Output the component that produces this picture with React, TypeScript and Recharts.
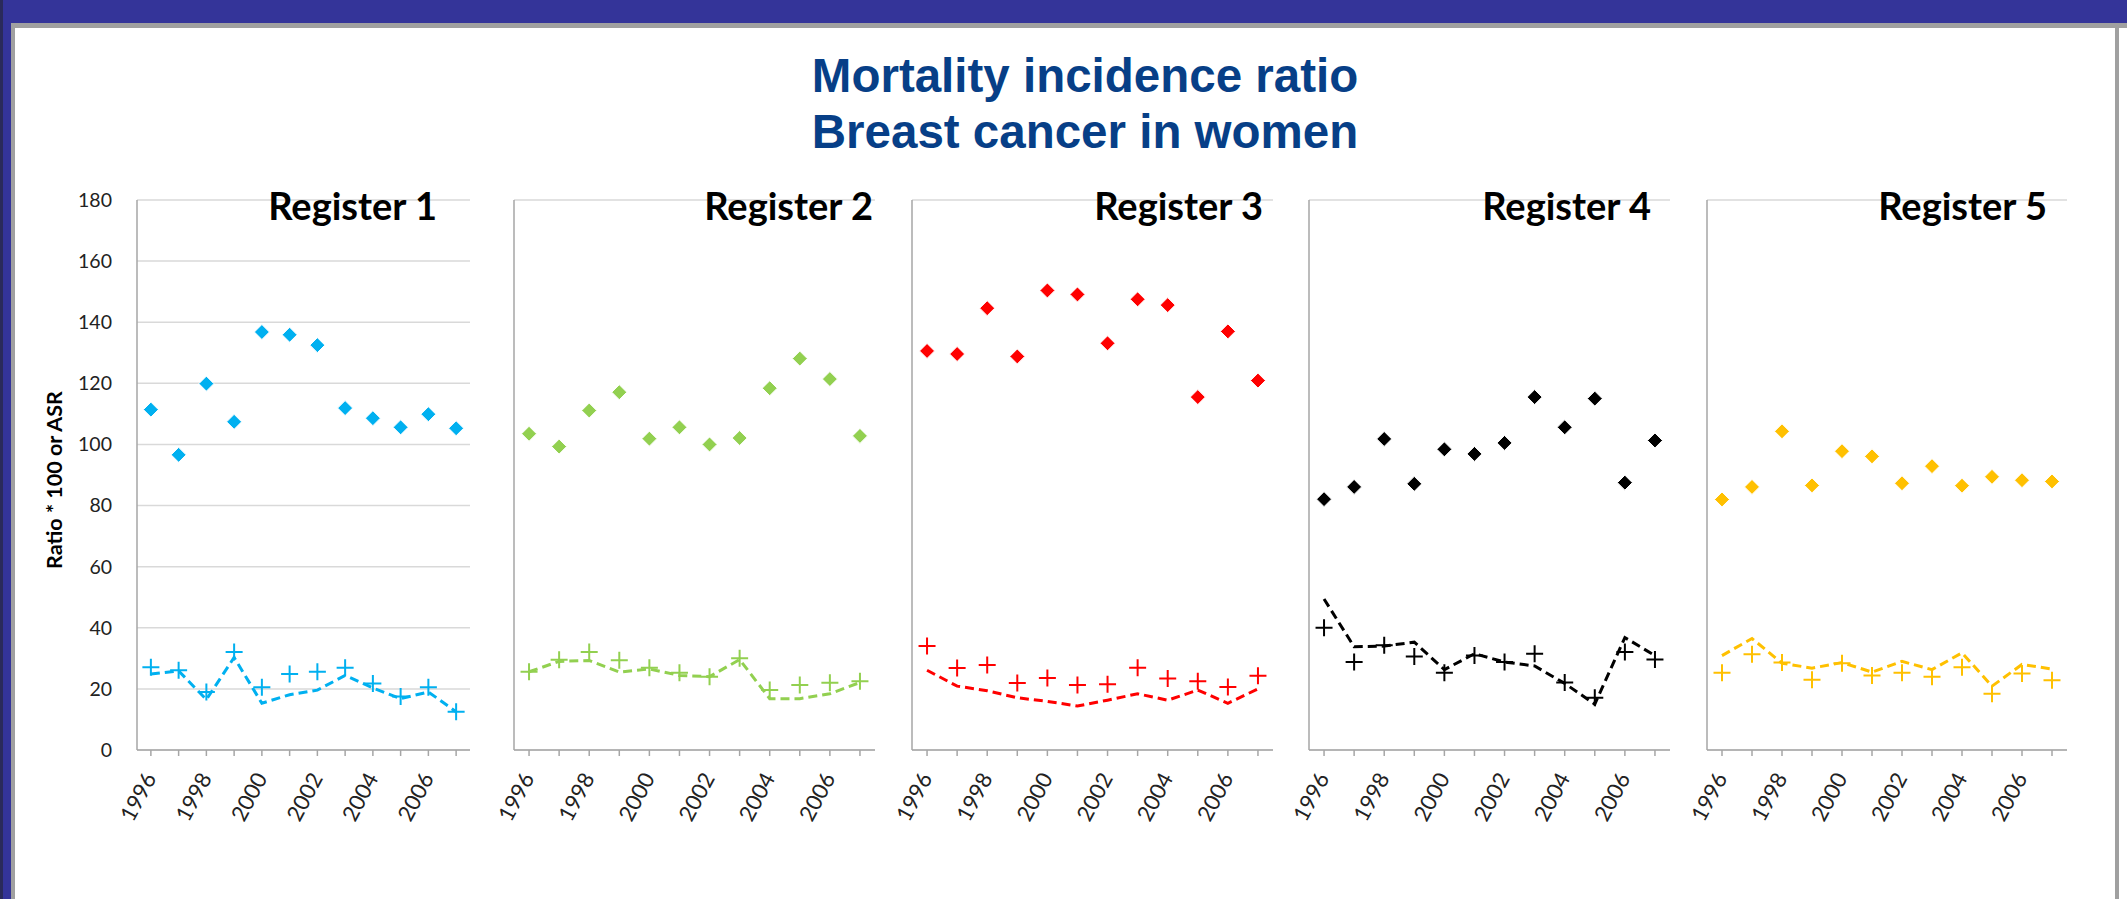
import React from 'react';
import { LineChart, Line, XAxis, YAxis, CartesianGrid } from 'recharts';

const years = ['1996', '1997', '1998', '1999', '2000', '2001', '2002', '2003', '2004', '2005', '2006', '2007'];
const yTicks = [0, 20, 40, 60, 80, 100, 120, 140, 160, 180];

// diamonds = ratio * 100, crosses and dashed line = ASR
const reg1Ratio = [111.4, 96.6, 119.9, 107.4, 136.8, 135.9, 132.5, 111.9, 108.6, 105.6, 109.9, 105.3];
const reg1Cross = [27.1, 26.1, 19, 32.1, 20.5, 24.9, 25.6, 26.9, 21.8, 17.5, 20.5, 12.5];
const reg1Dash = [24.9, 25.9, 16.5, 30.3, 15.3, 18.1, 19.6, 24.4, 20.3, 16.8, 19, 12.5];

const reg2Ratio = [103.5, 99.3, 111.1, 117.1, 101.9, 105.6, 100, 102.1, 118.4, 128.1, 121.4, 102.8];
const reg2Cross = [25.6, 29.5, 32.1, 29.4, 26.9, 25.3, 24, 30, 19.6, 21.3, 22, 22.5];
const reg2Dash = [25.6, 29, 29.3, 25.5, 26.5, 24.4, 24, 29.6, 16.8, 16.8, 18.4, 22.1];

const reg3Ratio = [130.6, 129.6, 144.6, 128.8, 150.4, 149.1, 133.1, 147.5, 145.6, 115.5, 137, 120.9];
const reg3Cross = [34, 26.8, 27.8, 21.9, 23.6, 21.3, 21.5, 26.9, 23.4, 22.5, 20.6, 24.3];
const reg3Dash = [26.1, 20.9, 19.4, 17.1, 15.9, 14.4, 16.3, 18.4, 16.3, 19.6, 15.3, 20];

const reg4Ratio = [82.1, 86.1, 101.8, 87.1, 98.4, 96.9, 100.5, 115.5, 105.6, 115, 87.5, 101.3];
const reg4Cross = [40, 28.8, 34.3, 30.6, 25.3, 30.9, 28.8, 31.5, 22.1, 17.1, 32.1, 29.6];
const reg4Dash = [49.4, 33.8, 34, 35.3, 26.3, 31.5, 28.8, 27.5, 21.8, 15, 36.8, 30.9];

const reg5Ratio = [82, 86.1, 104.3, 86.6, 97.8, 96.1, 87.3, 92.9, 86.5, 89.4, 88.3, 87.9];
const reg5Cross = [25.3, 31.3, 28.6, 23, 28.4, 24.4, 25.3, 24, 27.1, 18.4, 25, 22.8];
const reg5Dash = [30.9, 36.5, 28.4, 26.8, 28.6, 25.5, 29, 26.3, 31.8, 20.9, 28, 26.5];

const panels = [
  { name: 'Register 1', color: '#00B0F0', ratio: reg1Ratio, cross: reg1Cross, dash: reg1Dash, left: 137, right: 470, titleRight: 437 },
  { name: 'Register 2', color: '#92D050', ratio: reg2Ratio, cross: reg2Cross, dash: reg2Dash, left: 514, right: 875, titleRight: 873 },
  { name: 'Register 3', color: '#FF0000', ratio: reg3Ratio, cross: reg3Cross, dash: reg3Dash, left: 912, right: 1273, titleRight: 1263 },
  { name: 'Register 4', color: '#000000', ratio: reg4Ratio, cross: reg4Cross, dash: reg4Dash, left: 1309, right: 1670, titleRight: 1651 },
  { name: 'Register 5', color: '#FFC000', ratio: reg5Ratio, cross: reg5Cross, dash: reg5Dash, left: 1707, right: 2067, titleRight: 2047 },
];

const FONT = 'Lato, "Open Sans", sans-serif';
const AXIS_GRAY = '#A6A6A6';

const diamond = (color: string) => (props: any) => {
  const { cx, cy, index } = props;
  if (cx == null || cy == null) return null;
  const h = 7.5;
  return (
    <path
      key={`dm-${index}`}
      d={`M${cx},${cy - h} L${cx + h},${cy} L${cx},${cy + h} L${cx - h},${cy} Z`}
      fill={color}
      stroke="#ffffff"
      strokeWidth={1}
    />
  );
};

const cross = (color: string) => (props: any) => {
  const { cx, cy, index } = props;
  if (cx == null || cy == null) return null;
  const h = 8.5;
  return (
    <path
      key={`cr-${index}`}
      d={`M${cx - h},${cy} H${cx + h} M${cx},${cy - h} V${cy + h}`}
      stroke={color}
      strokeWidth={2}
      fill="none"
    />
  );
};

const YearTick = (props: any) => {
  const { x, y, payload } = props;
  if (Number(payload.value) % 2 !== 0) return <g />;
  const tx = x + 6;
  const ty = y + 20;
  return (
    <text
      x={tx}
      y={ty}
      transform={`rotate(-62 ${tx} ${ty})`}
      textAnchor="end"
      fontFamily={FONT}
      fontSize={22}
      fill="#222"
    >
      {payload.value}
    </text>
  );
};

function Panel({ p, first }: { p: (typeof panels)[number]; first: boolean }) {
  const plotW = p.right - p.left;
  const band = plotW / 12;
  const yw = first ? 137 : 40;
  const data = years.map((year, i) => ({ year, ratio: p.ratio[i], cross: p.cross[i], dash: p.dash[i] }));

  return (
    <div style={{ position: 'absolute', left: p.left - yw, top: 0 }}>
      <LineChart
        width={yw + plotW}
        height={860}
        data={data}
        margin={{ top: 200, right: 0, bottom: 50, left: 0 }}
        style={{ overflow: 'visible' }}
      >
        <CartesianGrid vertical={false} stroke="#D9D9D9" strokeWidth={1.5} />
        <XAxis
          dataKey="year"
          interval={0}
          height={60}
          padding={{ left: band / 2, right: band / 2 }}
          axisLine={{ stroke: AXIS_GRAY, strokeWidth: 1.5 }}
          tickLine={{ stroke: AXIS_GRAY, strokeWidth: 1.5 }}
          tickSize={6}
          tick={<YearTick />}
        />
        <YAxis
          width={yw}
          domain={[0, 180]}
          ticks={yTicks}
          allowDataOverflow
          axisLine={{ stroke: AXIS_GRAY, strokeWidth: 1.5 }}
          tickLine={false}
          tickSize={0}
          tickMargin={25}
          tick={first ? { fontFamily: FONT, fontSize: 19.5, fill: '#222' } : false}
        />
        <Line dataKey="dash" stroke={p.color} strokeWidth={3} strokeDasharray="9 5" dot={false} isAnimationActive={false} />
        <Line dataKey="cross" stroke="none" dot={cross(p.color)} isAnimationActive={false} />
        <Line dataKey="ratio" stroke="none" dot={diamond(p.color)} isAnimationActive={false} />
      </LineChart>
    </div>
  );
}

export default function App() {
  return (
    <div style={{ position: 'relative', width: 2127, height: 899, background: '#ffffff', overflow: 'hidden' }}>
      <style>{'body{margin:0}'}</style>
      {/* slide frame */}
      <div style={{ position: 'absolute', left: 0, top: 0, width: 2127, height: 23, background: '#343499' }} />
      <div style={{ position: 'absolute', left: 11, top: 23, width: 2116, height: 5, background: '#A0A0A0' }} />
      <div style={{ position: 'absolute', left: 0, top: 0, width: 3, height: 899, background: '#2A2A5A' }} />
      <div style={{ position: 'absolute', left: 3, top: 0, width: 8, height: 899, background: '#343499' }} />
      <div style={{ position: 'absolute', left: 11, top: 23, width: 4, height: 876, background: '#A0A0A0' }} />
      <div style={{ position: 'absolute', left: 2115, top: 23, width: 4, height: 876, background: '#A0A0A0' }} />

      {panels.map((p, i) => (
        <Panel key={p.name} p={p} first={i === 0} />
      ))}

      <svg width={2127} height={899} style={{ position: 'absolute', left: 0, top: 0, pointerEvents: 'none' }}>
        <text x={1085} y={92} textAnchor="middle" fontFamily='"Liberation Sans", Arial, sans-serif' fontWeight="bold" fontSize={47.5} fill="#073F87">
          Mortality incidence ratio
        </text>
        <text x={1085} y={148} textAnchor="middle" fontFamily='"Liberation Sans", Arial, sans-serif' fontWeight="bold" fontSize={47.5} fill="#073F87">
          Breast cancer in women
        </text>
        {panels.map((p) => (
          <text key={p.name} x={p.titleRight} y={220} textAnchor="end" fontFamily={FONT} fontWeight="bold" fontSize={38} fill="#000">
            {p.name}
          </text>
        ))}
        <text
          x={54}
          y={480}
          transform="rotate(-90 54 480)"
          textAnchor="middle"
          dominantBaseline="central"
          fontFamily={FONT}
          fontWeight="bold"
          fontSize={21.5}
          fill="#000"
        >
          Ratio * 100 or ASR
        </text>
      </svg>
    </div>
  );
}
